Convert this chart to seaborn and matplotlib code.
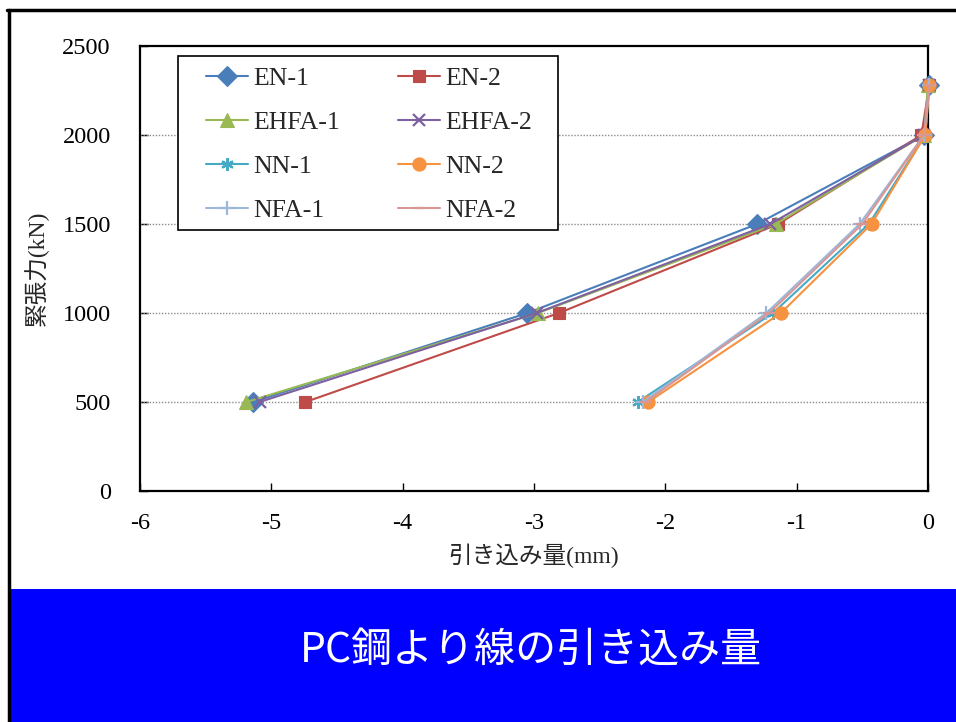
import matplotlib
matplotlib.use("Agg")
import matplotlib.pyplot as plt
import matplotlib.patches as mpatches
import matplotlib.lines as mlines
import seaborn as sns
import pandas as pd

# Tension steps (kN), applied from the top down
tension = [2280, 2000, 1500, 1000, 500]

# Draw-in of the strand (mm) for each specimen
series_names = ["EN-1", "EN-2", "EHFA-1", "EHFA-2", "NN-1", "NN-2", "NFA-1", "NFA-2"]
en_1 = [0.01, -0.03, -1.30, -3.05, -5.14]
en_2 = [0.01, -0.05, -1.14, -2.81, -4.74]
ehfa_1 = [0.00, -0.03, -1.16, -2.97, -5.19]
ehfa_2 = [0.01, -0.03, -1.20, -2.98, -5.09]
nn_1 = [0.01, -0.02, -0.45, -1.18, -2.21]
nn_2 = [0.01, -0.02, -0.43, -1.12, -2.13]
nfa_1 = [0.01, -0.03, -0.52, -1.23, -2.17]
nfa_2 = [0.01, -0.03, -0.50, -1.21, -2.15]
draw_in = [en_1, en_2, ehfa_1, ehfa_2, nn_1, nn_2, nfa_1, nfa_2]

x_ticks = [-6, -5, -4, -3, -2, -1, 0]
y_ticks = [0, 500, 1000, 1500, 2000, 2500]

line_colors = ["#4A7EBB", "#BE4B48", "#98B954", "#7D60A0",
               "#46AAC5", "#F69240", "#9BB7D9", "#D99694"]
markers = ["D", "s", "^", "x", (6, 2, 0), "o", "+", "_"]
marker_sizes = [10.5, 8.5, 9.5, 9, 9, 9.5, 10, 8]

frames = []
for name, xs in zip(series_names, draw_in):
    frames.append(pd.DataFrame({"series": name, "draw_in": xs, "tension": tension}))
df = pd.concat(frames, ignore_index=True)

sns.set_style("white")
plt.rcParams["font.family"] = ["Liberation Serif", "Noto Sans CJK JP"]

fig = plt.figure(figsize=(9.56, 7.22), dpi=100)
ax = fig.add_axes([140 / 956, 1 - 491 / 722, 788 / 956, 445 / 722])


def edge_width(mk):
    return 1.6 if mk in ("x", "+", "_") or isinstance(mk, tuple) else 0.8


handles = []
for name, color, mk, ms in zip(series_names, line_colors, markers, marker_sizes):
    sub = df[df["series"] == name]
    sns.lineplot(data=sub, x="draw_in", y="tension", ax=ax, sort=False,
                 estimator=None, color=color, linewidth=1.5,
                 marker=mk, markersize=ms, markeredgecolor=color,
                 markeredgewidth=edge_width(mk),
                 clip_on=False, zorder=3, legend=False)
    handles.append(mlines.Line2D([], [], color=color, linewidth=1.5, marker=mk,
                                 markersize=ms, markeredgecolor=color,
                                 markeredgewidth=edge_width(mk), label=name))

ax.set_xlim(-6, 0)
ax.set_ylim(0, 2500)
ax.set_xticks(x_ticks)
ax.set_yticks(y_ticks)
ax.set_xticklabels([str(v) for v in x_ticks])
ax.set_yticklabels([str(v) for v in y_ticks])

for v in y_ticks[1:-1]:
    ax.axhline(v, color="#8C8C8C", linewidth=1.0, linestyle=(0, (1, 1.2)), zorder=1)

for sp in ax.spines.values():
    sp.set_color("black")
    sp.set_linewidth(1.6)
    sp.set_visible(True)

ax.tick_params(axis="both", direction="in", length=6, width=1.0, colors="black",
               labelsize=17.5)
ax.tick_params(axis="y", pad=21)
ax.tick_params(axis="x", pad=16)
ax.tick_params(bottom=True, left=True, top=False, right=False)

ax.set_xlabel("引き込み量(mm)", fontsize=17, labelpad=7)
ax.set_ylabel("緊張力(kN)", fontsize=17, labelpad=10)

# legend box
box_l, box_r, box_t, box_b = 178, 558, 56, 230
ax.add_artist(mpatches.Rectangle(((box_l - 140) / 788, (491 - box_b) / 445),
                                 (box_r - box_l) / 788, (box_b - box_t) / 445,
                                 transform=ax.transAxes, facecolor="white",
                                 edgecolor="black", linewidth=1.2, zorder=5))

# legend entries in two columns, filled row by row
order = [0, 2, 4, 6, 1, 3, 5, 7]
leg = ax.legend([handles[i] for i in order], [series_names[i] for i in order],
                ncol=2, loc="upper left",
                bbox_to_anchor=((206 - 140) / 788, (491 - 67) / 445),
                borderaxespad=0, borderpad=0, fontsize=18.5, frameon=False,
                handlelength=1.65, handletextpad=0.2,
                columnspacing=2.25, labelspacing=0.82)
leg.set_zorder(6)

# outer frame and title banner
fig.add_artist(mlines.Line2D([7 / 956, 1.0], [1 - 10 / 722, 1 - 10 / 722],
                             transform=fig.transFigure, color="black", linewidth=2.5))
fig.add_artist(mlines.Line2D([8.5 / 956, 8.5 / 956], [0, 1 - 10 / 722],
                             transform=fig.transFigure, color="black", linewidth=2.5))
fig.add_artist(mpatches.Rectangle((10 / 956, 0), 1 - 10 / 956, 133 / 722,
                                  transform=fig.transFigure, facecolor="#0000FF",
                                  edgecolor="none"))
fig.text(531 / 956, 1 - 651 / 722, "PC鋼より線の引き込み量", color="white",
         fontsize=29.5, ha="center", va="center",
         family=["Noto Sans CJK JP", "DejaVu Sans"])

fig.savefig("out.png", dpi=100)
